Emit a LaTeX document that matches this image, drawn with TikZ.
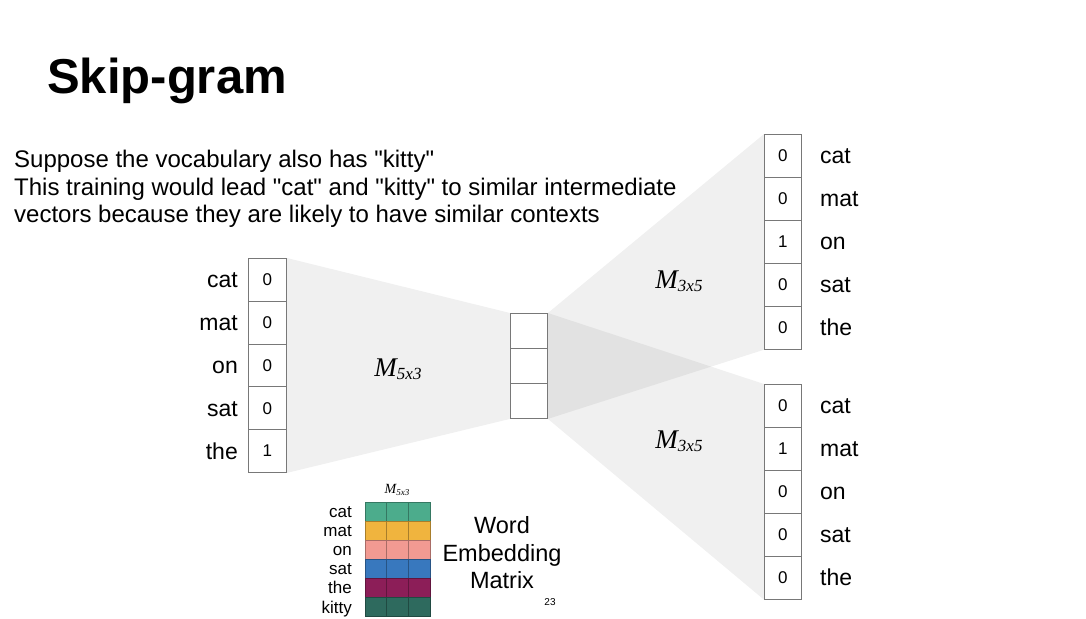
\documentclass[tikz,border=0pt]{standalone}
\usepackage{fontspec}
\setmainfont{Liberation Sans}[Ligatures=TeXOff]
\newfontfamily\serifit{Liberation Serif}[ItalicFont=* Italic]
\usetikzlibrary{backgrounds}
\definecolor{cellgray}{RGB}{120,120,120}
\definecolor{ecat}{RGB}{76,172,140}
\definecolor{emat}{RGB}{240,180,62}
\definecolor{eon}{RGB}{242,154,146}
\definecolor{esat}{RGB}{56,120,190}
\definecolor{ethe}{RGB}{140,30,88}
\definecolor{ekitty}{RGB}{46,106,94}
\newcommand\mlab[2]{{\serifit\itshape\fontsize{#2}{#2}\selectfont M}\raisebox{-0.25em}{\serifit\itshape\fontsize{17}{17}\selectfont #1}}
\newcommand\fs[1]{\fontsize{#1}{#1}\selectfont}
\newcommand\qq{\char34\relax}
\tikzset{
  cell/.style={draw=cellgray, line width=0.9pt, fill=white, inner sep=0pt, anchor=north west, font=\fs{17}},
  bigcell/.style={cell, minimum width=38pt, minimum height=42.8pt},
  midcell/.style={cell, minimum width=37pt, minimum height=35pt},
  word/.style={inner sep=0pt, font=\fs{23}},
  lword/.style={word, anchor=base east},
  rword/.style={word, anchor=base west},
  ewordlab/.style={inner sep=0pt, anchor=base east, font=\fs{17}},
  bodytext/.style={inner sep=0pt, anchor=base west, font=\fs{24}},
  funnel/.style={fill=black, fill opacity=0.06, draw=none},
  mtext/.style={inner sep=0pt}
}
\begin{document}
\begin{tikzpicture}[x=1pt,y=-1pt]
\useasboundingbox (0,0) rectangle (1086,618);
% title and text
\node[anchor=base west, inner sep=0pt, font=\bfseries\fs{49}] (title) at (47,93) {Skip-gram};
\node[bodytext] (txt1) at (14,167) {Suppose the vocabulary also has \qq kitty\qq};
\node[bodytext] (txt2) at (14,195) {This training would lead \qq cat\qq\ and \qq kitty\qq\ to similar intermediate};
\node[bodytext] (txt3) at (14,222) {vectors because they are likely to have similar contexts};
% left vector
\foreach \v [count=\i] in {0,0,0,0,1}{
  \node[bigcell] (L\i) at (248,{258+42.8*(\i-1)}) {\v};
}
\foreach \w [count=\i] in {cat,mat,on,sat,the}{
  \node[lword] (LW\i) at ([xshift=-10pt,yshift=-8pt]L\i.west) {\w};
}
% middle vector
\foreach \i in {1,2,3}{
  \node[midcell] (C\i) at (510,{313+35*(\i-1)}) {};
}
% right vectors
\foreach \v [count=\i] in {0,0,1,0,0}{
  \node[bigcell, minimum width=37pt] (T\i) at (764,{134+43*(\i-1)}) {\v};
}
\foreach \v [count=\i] in {0,1,0,0,0}{
  \node[bigcell, minimum width=37pt] (B\i) at (764,{384+43*(\i-1)}) {\v};
}
\foreach \w [count=\i] in {cat,mat,on,sat,the}{
  \node[rword] (TW\i) at ([xshift=18pt,yshift=-8pt]T\i.east) {\w};
  \node[rword] (BW\i) at ([xshift=18pt,yshift=-8pt]B\i.east) {\w};
}
% funnels
\begin{scope}[on background layer]
  \fill[funnel] (L1.north east) -- (C1.north west) -- (C3.south west) -- (L5.south east) -- cycle;
  \fill[funnel] (C1.north east) -- (T1.north west) -- (T5.south west) -- (C3.south east) -- cycle;
  \fill[funnel] (C1.north east) -- (B1.north west) -- (B5.south west) -- (C3.south east) -- cycle;
\end{scope}
% matrix labels
\node[mtext] (M1) at (398,369) {\mlab{5x3}{27}};
\node[mtext] (M2) at (679,281) {\mlab{3x5}{27}};
\node[mtext] (M3) at (679,441) {\mlab{3x5}{27}};
% embedding matrix
\foreach \c/\w [count=\i] in {ecat/cat,emat/mat,eon/on,esat/sat,ethe/the,ekitty/kitty}{
  \foreach \j in {0,1,2}{
    \filldraw[fill=\c, draw=\c!70!black, line width=0.6pt] ({365+21.7*\j},{502+19.1*(\i-1)}) rectangle ++(21.7,19.1);
  }
  \node[ewordlab] (EW\i) at (352,{517.5+19.1*(\i-1)}) {\w};
}
\node[inner sep=0pt] (EM) at (397,490) {{\serifit\itshape\fs{14}M}\raisebox{-0.25em}{\serifit\itshape\fs{9}5x3}};
\node[inner sep=0pt, align=center, font=\fs{23.5}] (WEM) at (502,553) {Word\\[4pt]Embedding\\[4pt]Matrix};
\node[inner sep=0pt, font=\fs{10}] (pg) at (550,602) {23};
\end{tikzpicture}
\end{document}
